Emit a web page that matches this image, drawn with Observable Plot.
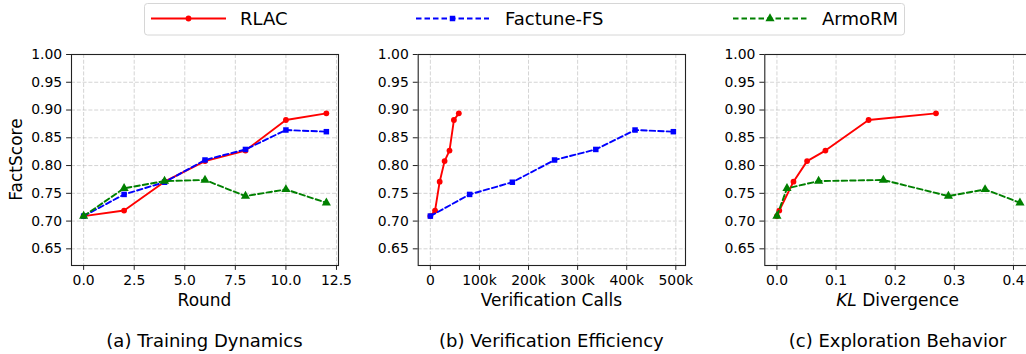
<!DOCTYPE html>
<html>
<head>
<meta charset="utf-8">
<script src="https://cdn.jsdelivr.net/npm/d3@7"></script>
<script src="https://cdn.jsdelivr.net/npm/@observablehq/plot@0.6"></script>
<style>
  body { margin: 0; background: #fff; }
  #wrap { position: relative; width: 1026px; height: 354px; overflow: hidden; font-family: "DejaVu Sans", sans-serif; }
  #wrap svg.panel { position: absolute; top: 0; overflow: visible; }
  #overlay { position: absolute; top: 0; left: 0; pointer-events: none; }
</style>
</head>
<body>
<div id="wrap"></div>
<script>
// ---- data ----
const seriesNames = ["RLAC", "Factune-FS", "ArmoRM"];
const rounds = [0, 2, 4, 6, 8, 10, 12];
const rlacScore = [0.709, 0.719, 0.771, 0.808, 0.827, 0.882, 0.894];
const factuneScore = [0.709, 0.748, 0.770, 0.810, 0.829, 0.864, 0.861];
const armoScore = [0.709, 0.759, 0.772, 0.774, 0.745, 0.757, 0.733];
const rlacCalls = [0, 9600, 19000, 29000, 39000, 48000, 58000];
const factuneCalls = [0, 80000, 167000, 253000, 337000, 417000, 495000];
const rlacKL = [0, 0.004, 0.028, 0.051, 0.082, 0.155, 0.269];
const armoKL = [0, 0.017, 0.0705, 0.18, 0.29, 0.352, 0.411];
const yTicks = [0.65, 0.70, 0.75, 0.80, 0.85, 0.90, 0.95, 1.00];
const roundTicks = [0, 2.5, 5, 7.5, 10, 12.5];
const callTicks = [0, 100000, 200000, 300000, 400000, 500000];
const klTicks = [0, 0.1, 0.2, 0.3, 0.4];
const captions = ["(a) Training Dynamics", "(b) Verification Efficiency", "(c) Exploration Behavior"];

const styles = {
  "RLAC": {color: "#ff0000", dash: null, symbol: "circle", r: 2.9},
  "Factune-FS": {color: "#0000ff", dash: "5.5,3", symbol: "square", r: 3.1},
  "ArmoRM": {color: "#008000", dash: "5.5,3", symbol: "triangle", r: 3.4}
};

const zip = (xs, ys, name) => xs.map((x, i) => ({x, y: ys[i], name}));

const wrap = document.getElementById("wrap");

function panel({series, xDomain, xTicks, xFormat, left, ML, MR}) {
  const marks = [
    Plot.gridX(xTicks, {stroke: "#b0b0b0", strokeOpacity: 0.55, strokeDasharray: "4,1.8", strokeWidth: 1}),
    Plot.gridY(yTicks, {stroke: "#b0b0b0", strokeOpacity: 0.55, strokeDasharray: "4,1.8", strokeWidth: 1})
  ];
  for (const s of series) {
    const st = styles[s.name];
    const data = zip(s.xs, s.ys, s.name);
    marks.push(Plot.line(data, {x: "x", y: "y", stroke: st.color, strokeWidth: 1.9, strokeDasharray: st.dash}));
    marks.push(Plot.dot(data, {x: "x", y: "y", fill: st.color, stroke: "none", symbol: st.symbol, r: st.r}));
  }
  marks.push(Plot.frame({stroke: "#222", strokeWidth: 1.1}));
  marks.push(Plot.axisX(xTicks, {tickSize: 4.9, tickPadding: 4.5, tickFormat: xFormat, label: null, stroke: "#222"}));
  marks.push(Plot.axisY(yTicks, {tickSize: 4.9, tickPadding: 4.5, tickFormat: d3.format(".2f"), label: null, stroke: "#222"}));
  const svg = Plot.plot({
    width: 350, height: 290,
    marginTop: 54, marginBottom: 25, marginLeft: ML, marginRight: MR,
    x: {domain: xDomain},
    y: {domain: [0.62, 1.0]},
    style: {fontFamily: "DejaVu Sans", fontSize: "13.9px", color: "#000", background: "transparent"},
    marks
  });
  svg.classList.add("panel");
  svg.style.left = left + "px";
  wrap.appendChild(svg);
}

panel({
  series: [{name: "RLAC", xs: rounds, ys: rlacScore}, {name: "Factune-FS", xs: rounds, ys: factuneScore}, {name: "ArmoRM", xs: rounds, ys: armoScore}],
  xDomain: [-0.6, 12.6], xTicks: roundTicks, xFormat: d3.format(".1f"), left: 0, ML: 71, MR: 12
});
panel({
  series: [{name: "RLAC", xs: rlacCalls, ys: rlacScore}, {name: "Factune-FS", xs: factuneCalls, ys: factuneScore}],
  xDomain: [-24750, 519750], xTicks: callTicks, xFormat: d => d === 0 ? "0" : (d / 1000) + "k", left: 350, ML: 67.7, MR: 15
});
panel({
  series: [{name: "RLAC", xs: rlacKL, ys: rlacScore}, {name: "ArmoRM", xs: armoKL, ys: armoScore}],
  xDomain: [-0.0205, 0.4305], xTicks: klTicks, xFormat: d3.format(".1f"), left: 700, ML: 64.3, MR: 19
});

// ---- overlay: legend, axis labels, captions ----
const ov = d3.select(wrap).append("svg").attr("id", "overlay").attr("width", 1026).attr("height", 354)
  .style("font-family", "DejaVu Sans");

ov.append("rect").attr("x", 144.5).attr("y", 3.5).attr("width", 760).attr("height", 31.5)
  .attr("rx", 3).attr("fill", "#fff").attr("stroke", "#d6d6d6").attr("stroke-width", 1);
const legendPos = [{x0: 151, x1: 226, tx: 240}, {x0: 416, x1: 489, tx: 505}, {x0: 733, x1: 807, tx: 822}];
seriesNames.forEach((n, i) => {
  const st = styles[n], p = legendPos[i], y = 18.5;
  ov.append("line").attr("x1", p.x0).attr("x2", p.x1).attr("y1", y).attr("y2", y)
    .attr("stroke", st.color).attr("stroke-width", 1.9).attr("stroke-dasharray", st.dash);
  const sym = {circle: d3.symbolCircle, square: d3.symbolSquare, triangle: d3.symbolTriangle}[st.symbol];
  ov.append("path").attr("d", d3.symbol(sym, Math.PI * st.r * st.r)())
    .attr("transform", `translate(${(p.x0 + p.x1) / 2},${y})`).attr("fill", st.color);
  ov.append("text").attr("x", p.tx).attr("y", 25).attr("font-size", 18).text(n);
});

const frameCenters = [204.5, 551.4, 897.6];
const xl = ov.append("g").attr("font-size", 17).attr("text-anchor", "middle");
xl.append("text").attr("x", frameCenters[0]).attr("y", 306).text("Round");
xl.append("text").attr("x", frameCenters[1]).attr("y", 306).text("Verification Calls");
const kl = xl.append("text").attr("x", frameCenters[2]).attr("y", 306);
kl.append("tspan").attr("font-style", "italic").text("KL");
kl.append("tspan").text(" Divergence");
ov.append("text").attr("transform", "translate(22,159.5) rotate(-90)").attr("text-anchor", "middle")
  .attr("font-size", 17).text("FactScore");

const cap = ov.append("g").attr("font-size", 18).attr("text-anchor", "middle");
captions.forEach((c, i) => cap.append("text").attr("x", frameCenters[i]).attr("y", 347).text(c));
</script>
</body>
</html>
